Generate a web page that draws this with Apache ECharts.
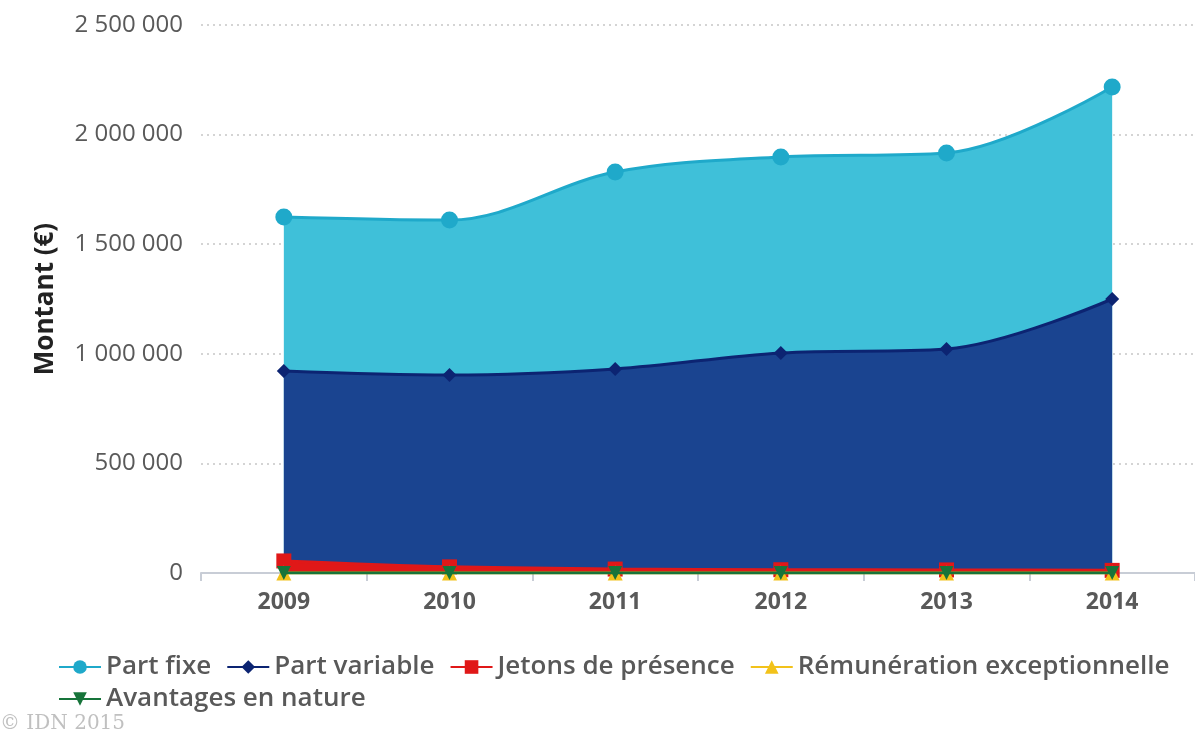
<!DOCTYPE html>
<html>
<head>
<meta charset="utf-8">
<title>Montant</title>
<script src="https://cdn.jsdelivr.net/npm/echarts@6/dist/echarts.min.js"></script>
<style>
  html, body { margin: 0; padding: 0; background: #fff; }
  #chart { width: 1195px; height: 733px; }
  #credit {
    position: absolute; left: 0; top: 710px;
    font-family: "DejaVu Serif", serif; font-size: 20px; color: #c0c0c0;
  }
</style>
</head>
<body>
<div id="chart"></div>
<div id="credit">© IDN 2015</div>
<script>
// données
const years = ['2009', '2010', '2011', '2012', '2013', '2014'];
const partFixe = [1624000, 1610000, 1829000, 1898000, 1916000, 2217000];
const partVariable = [921000, 903000, 931000, 1004000, 1022000, 1250000];
const jetons = [55000, 28000, 18000, 15000, 14000, 12000];
const remExcept = [0, 0, 0, 0, 0, 0];
const avantages = [0, 0, 0, 0, 0, 0];
const yTicks = [0, 500000, 1000000, 1500000, 2000000, 2500000];

const font = 'Open Sans';
const txt = '#595959';

function fmt(v) {
  return String(v).replace(/\B(?=(\d{3})+(?!\d))/g, ' ');
}

function serie(name, data, fill, line, symbol, size, z) {
  return {
    name: name,
    type: 'line',
    data: data,
    smooth: 0.35,
    symbol: symbol,
    symbolSize: size,
    z: z,
    lineStyle: { color: line, width: 3 },
    itemStyle: { color: line },
    areaStyle: fill ? { color: fill, opacity: 1 } : undefined
  };
}

// deux lignes de légende
function legendRow(top, names) {
  return {
    left: 53, top: top,
    itemGap: 15, itemWidth: 42, itemHeight: 17,
    textStyle: { fontSize: 26, color: txt, fontFamily: font, fontWeight: 600 },
    data: names
  };
}

const chart = echarts.init(document.getElementById('chart'));
chart.setOption({
  animation: false,
  textStyle: { fontFamily: font },
  grid: { left: 201, right: -4, top: 25, bottom: 160 },
  legend: [
    legendRow(649, ['Part fixe', 'Part variable', 'Jetons de présence', 'Rémunération exceptionnelle']),
    legendRow(681, ['Avantages en nature'])
  ],
  xAxis: {
    type: 'category',
    data: years,
    boundaryGap: true,
    axisLine: { lineStyle: { color: '#c8cdd6', width: 2 } },
    axisTick: { show: true, length: 8, lineStyle: { color: '#c8cdd6', width: 2 } },
    axisLabel: { fontSize: 23, color: txt, fontWeight: 'bold', margin: 18 }
  },
  yAxis: {
    type: 'value',
    min: yTicks[0],
    max: yTicks[yTicks.length - 1],
    interval: 500000,
    name: 'Montant (€)',
    nameLocation: 'middle',
    nameGap: 142,
    nameTextStyle: { fontSize: 26, color: '#222', fontWeight: 'bold', fontFamily: font },
    axisLabel: { fontSize: 24, color: txt, formatter: fmt, margin: 18 },
    splitLine: { lineStyle: { color: '#d4d4d4', type: [2, 4], width: 2 } }
  },
  series: [
    serie('Part fixe', partFixe, '#3fc0d9', '#1fa9ca', 'circle', 17, 1),
    serie('Part variable', partVariable, '#1a4490', '#0c2472', 'diamond', 14, 2),
    serie('Jetons de présence', jetons, '#e01818', '#e01818', 'rect', 15, 3),
    serie('Rémunération exceptionnelle', remExcept, null, '#f2c21a', 'triangle', 15, 4),
    serie('Avantages en nature', avantages, null, '#17743a', 'path://M0,0 L10,0 L5,10 Z', 14, 5)
  ]
});
</script>
</body>
</html>
